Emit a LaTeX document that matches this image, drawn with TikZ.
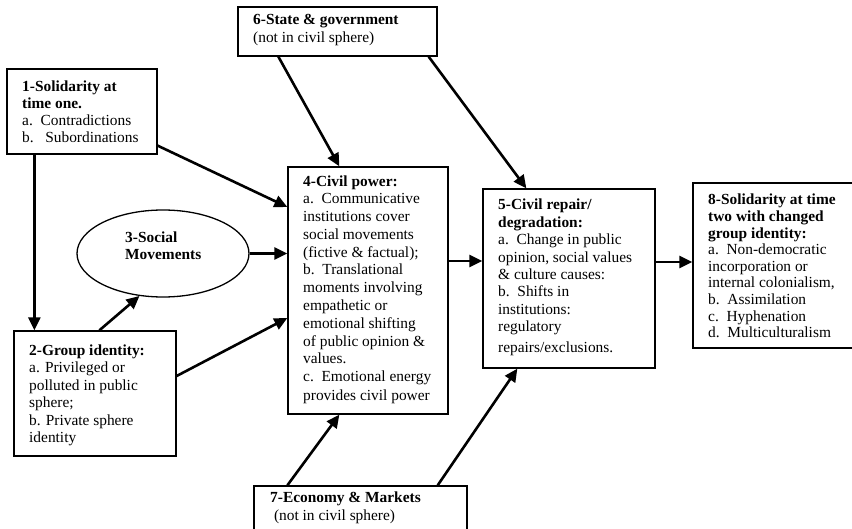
\documentclass[tikz,border=0pt]{standalone}
\usepackage{fontspec}
\setmainfont{Liberation Serif}
\usetikzlibrary{arrows.meta,shapes.geometric}
\tikzset{
  box/.style={draw=black, line width=1.3pt, rectangle, inner sep=0pt},
  oval/.style={draw=black, line width=1.3pt, ellipse, inner sep=0pt},
  txt/.style={anchor=base west, align=left, inner sep=0pt, font=\fontsize{15.4}{17}\selectfont},
  arr/.style={line width=2.6pt, -{Triangle[length=13pt,width=12pt]}}
}
\begin{document}
\begin{tikzpicture}[x=1pt,y=-1pt]
\useasboundingbox (0,0) rectangle (852,529);
\clip (0,0) rectangle (852,529);
\fill[white] (0,0) rectangle (852,529);

% boxes
\node[box, minimum width=150pt, minimum height=85pt] (b1) at (82,111.5) {};
\node[box, minimum width=199pt, minimum height=49pt] (b6) at (337.5,31.5) {};
\node[box, minimum width=160pt, minimum height=247pt] (b4) at (368,290.5) {};
\node[box, minimum width=172pt, minimum height=179pt] (b5) at (569,278.5) {};
\node[box, minimum width=163pt, minimum height=165pt] (b8) at (774.5,265.5) {};
\node[box, minimum width=162pt, minimum height=125pt] (b2) at (95,393.5) {};
\node[box, minimum width=213pt, minimum height=54pt] (b7) at (360.5,513) {};
\node[oval, minimum width=172pt, minimum height=87pt] (b3) at (163,253.5) {};

% texts (anchor = baseline of the last line)
\node[txt] (t1) at (22,143) {\textbf{1-Solidarity at}\\\textbf{time one.}\\a.\ \ Contradictions\\b.\ \ \ Subordinations};
\node[txt, font=\fontsize{15.4}{18}\selectfont] (t6) at (253,43) {\textbf{6-State \& government}\\(not in civil sphere)};
\node[txt, font=\fontsize{15.4}{17.8}\selectfont] (t4) at (303,400.6) {\textbf{4-Civil power:}\\a.\ \ Communicative\\institutions cover\\social movements\\(fictive \& factual);\\b.\ \ Translational\\moments involving\\empathetic or\\emotional shifting\\of public opinion \&\\values.\\c.\ \ Emotional energy\\[1pt]provides civil power};
\node[txt, font=\fontsize{15.4}{17.4}\selectfont] (t5) at (498,352.2) {\textbf{5-Civil repair/}\\\textbf{degradation:}\\a.\ \ Change in public\\opinion, social values\\\& culture causes:\\b.\ \ Shifts in\\institutions:\\regulatory\\[3pt]repairs/exclusions.};
\node[txt, font=\fontsize{15.4}{16.6}\selectfont] (t8) at (708,337.8) {\textbf{8-Solidarity at time}\\\textbf{two with changed}\\\textbf{group identity:}\\a.\ \ Non-democratic\\incorporation or\\internal colonialism,\\b.\ \ Assimilation\\c.\ \ Hyphenation\\d.\ \ Multiculturalism};
\node[txt, font=\fontsize{15.4}{17.5}\selectfont] (t2) at (29,442.5) {\textbf{2-Group identity:}\\a. Privileged or\\polluted in public\\sphere;\\b. Private sphere\\identity};
\node[txt] (t3) at (125,260) {\textbf{3-Social}\\\textbf{Movements}};
\node[txt, font=\fontsize{15.4}{18}\selectfont] (t7) at (270,520) {\textbf{7-Economy \& Markets}\\\ (not in civil sphere)};

% connectors
\draw[arr] ([yshift=9pt]b1.south east) -- ([yshift=83.5pt]b4.west);
\draw[arr] ([xshift=28pt]b1.south west) -- ([xshift=21pt]b2.north west);
\draw[arr] (b3.east) coordinate (p34) -- (p34 -| b4.west);
\draw[arr] ([xshift=86pt]b2.north west) -- (b3.241);
\draw[arr] ([yshift=17.5pt]b2.east) -- ([yshift=-27.5pt]b4.west);
\draw[arr] ([xshift=41pt]b6.south west) -- ([xshift=52pt]b4.north west);
\draw[arr] ([xshift=-9pt]b6.south east) -- ([xshift=44pt]b5.north west);
\draw[arr] ([yshift=29.5pt]b4.east) coordinate (p45) -- (p45 -| b5.west);
\draw[arr] ([yshift=16.5pt]b5.east) coordinate (p58) -- (p58 -| b8.west);
\draw[arr] ([xshift=34pt]b7.north west) -- ([xshift=52pt]b4.south west);
\draw[arr] ([xshift=-30pt]b7.north east) -- ([xshift=35pt]b5.south west);
\end{tikzpicture}
\end{document}
